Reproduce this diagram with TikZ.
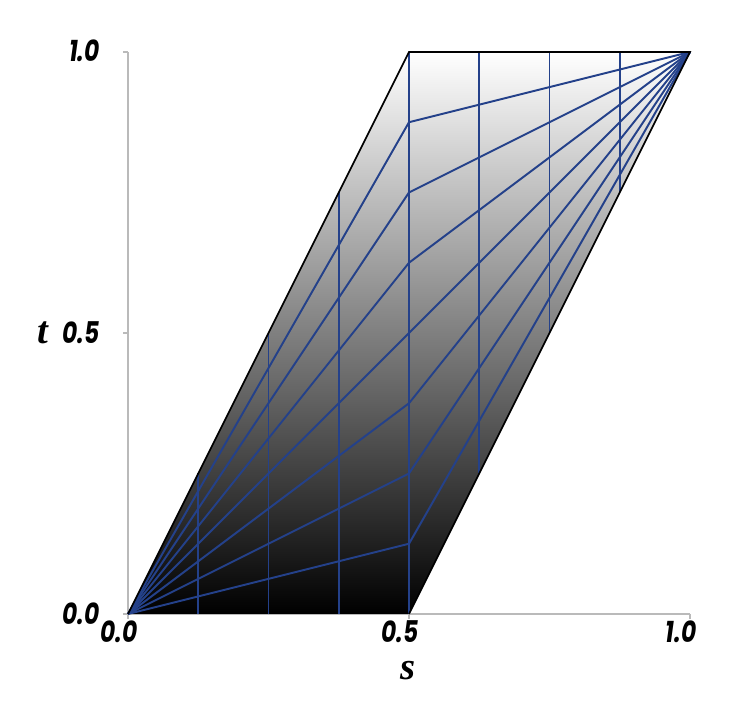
\documentclass[tikz,border=0pt]{standalone}
\usepackage{fontspec}
\newfontfamily\tickfont{Poppins}[FakeStretch=0.78]
\newfontfamily\varfont{Liberation Serif}
\begin{document}
\begin{tikzpicture}[x=11.24cm, y=11.24cm,
  axis/.style={draw=black!27, line width=1pt},
  mesh/.style={draw={rgb,255:red,36;green,65;blue,138}, line width=1.1pt},
  edge/.style={draw=black, line width=1pt},
  ticklabel/.style={font=\tickfont\bfseries\itshape\fontsize{17}{18}\selectfont, inner sep=0pt},
  varlabel/.style={font=\varfont\bfseries\itshape\fontsize{22}{23}\selectfont, inner sep=0pt}]
\useasboundingbox (-2.56cm,-1.9cm) rectangle (12.44cm,12.28cm);

% Axes
\coordinate (o) at (0,0);
\coordinate (sx) at (1,0);
\coordinate (ty) at (0,1);
\draw[axis] (o) -- (sx);
\draw[axis] (o) -- (ty);
\foreach \v in {0,0.5,1} {
  \draw[axis] (\v,0) -- (\v,-0.009);
  \draw[axis] (0,\v) -- (-0.009,\v);
}

% Region
\coordinate (b) at (0.5,0);
\coordinate (c) at (1,1);
\coordinate (d) at (0.5,1);
\shade[top color=white, bottom color=black] (o) -- (b) -- (c) -- (d) -- cycle;

% Mesh
\foreach \k in {1,...,7} {
  \coordinate (m\k) at (0.5,\k/8);
  \draw[mesh] (o) -- (m\k) -- (c);
}
\foreach \k in {1,2,3} {
  \coordinate (l\k) at (\k/8,0);
  \coordinate (lt\k) at (\k/8,\k/4);
  \coordinate (r\k) at (0.5+\k/8,\k/4);
  \coordinate (rt\k) at (0.5+\k/8,1);
  \draw[mesh] (l\k) -- (lt\k);
  \draw[mesh] (r\k) -- (rt\k);
}
\draw[mesh] (b) -- (d);

% Outline
\draw[edge] (o) -- (d) -- (c) -- (b);

% Labels
\node[ticklabel, anchor=east] (t0) at (-0.05,0.001) {0.0};
\node[ticklabel, anchor=east] (t5) at (-0.05,0.5) {0.5};
\node[ticklabel, anchor=east] (t10) at (-0.05,1.003) {1.0};
\node[ticklabel] (s0) at (-0.016,-0.031) {0.0};
\node[ticklabel] (s5) at (0.484,-0.031) {0.5};
\node[ticklabel] (s10) at (0.984,-0.031) {1.0};
\node[varlabel] (tl) at (-0.151,0.5) {t};
\node[varlabel] (sl) at (0.498,-0.1) {s};
\end{tikzpicture}
\end{document}
